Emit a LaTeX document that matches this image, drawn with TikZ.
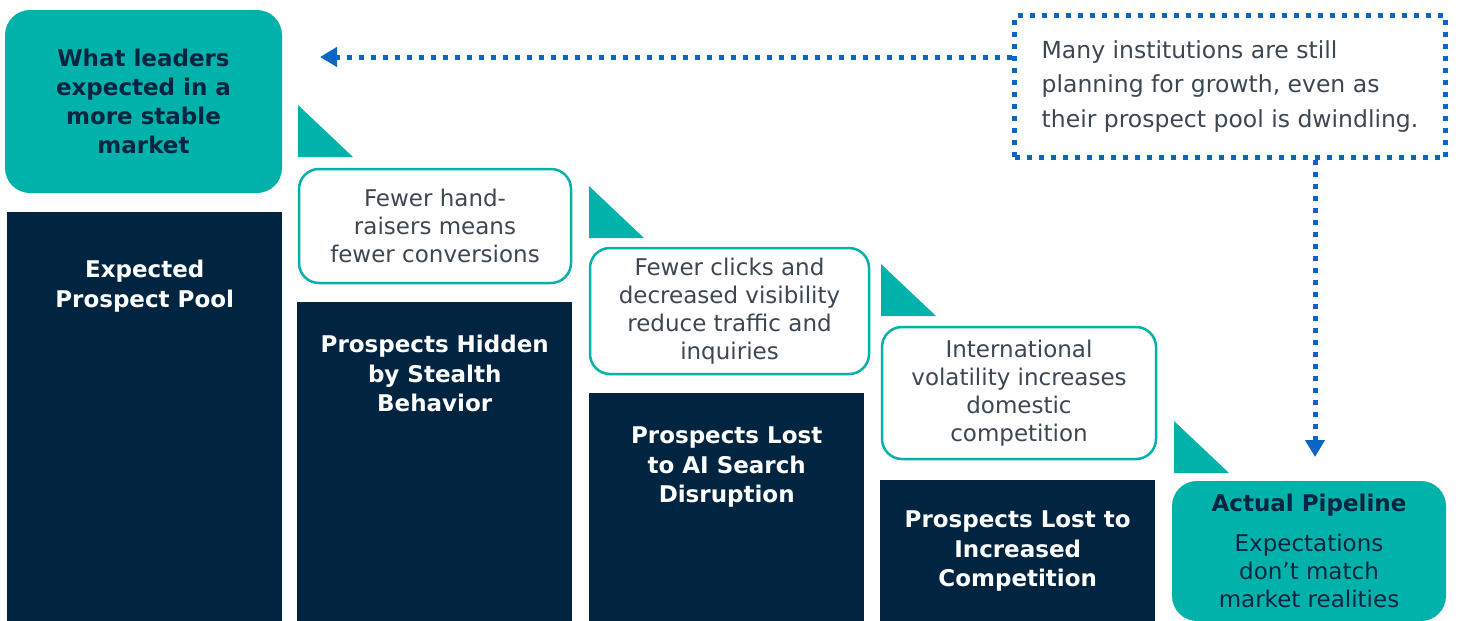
\documentclass[tikz,border=0pt]{standalone}
\usepackage{fontspec}
\setmainfont{DejaVu Sans}
\usetikzlibrary{arrows.meta, positioning}
\definecolor{tealfill}{HTML}{00B2A9}
\definecolor{navy}{HTML}{012441}
\definecolor{slate}{HTML}{3D4752}
\definecolor{linkblue}{HTML}{0A66C2}

\begin{document}
\begin{tikzpicture}[x=1pt, y=-1pt,
    tealbox/.style={fill=tealfill, rounded corners=25pt, text=navy, align=center, inner sep=0pt},
    notebox/.style={draw=tealfill, line width=2.5pt, fill=white, rounded corners=20pt, text=slate, align=center, inner sep=0pt, font=\fontsize{23}{28}\selectfont},
    bar/.style={fill=navy, anchor=north west, minimum width=275pt, inner sep=0pt},
    bartext/.style={text=white, align=center, inner sep=0pt, font=\bfseries\fontsize{23}{29.5}\selectfont},
    dotline/.style={draw=linkblue, line width=5pt, dash pattern=on 5pt off 7pt},
    dotarrow/.style={dotline, -{Triangle[length=17pt, width=19pt]}}]

    \useasboundingbox (0,0) rectangle (1459,621);

    \node[tealbox, minimum width=277pt, minimum height=183pt, font=\bfseries\fontsize{23}{29}\selectfont] (lead) at (143.5,101.5) {What leaders\\expected in a\\more stable\\market};

    \node[bar, minimum height=412pt] (pool) at (7,212) {};
    \node[bar, minimum height=322pt] (hidden) at (297,302) {};
    \node[bar, minimum height=231pt] (ailost) at (589,393) {};
    \node[bar, minimum height=144pt] (complost) at (880,480) {};

    \node[bartext, below=48pt of pool.north] (pooltext) {Expected\\Prospect Pool};
    \node[bartext, below=33pt of hidden.north] (hiddentext) {Prospects Hidden\\by Stealth\\Behavior};
    \node[bartext, below=34pt of ailost.north] (ailosttext) {Prospects Lost\\to AI Search\\Disruption};
    \node[bartext, below=31pt of complost.north] (complosttext) {Prospects Lost to\\Increased\\Competition};

    \node[notebox, minimum width=272pt, minimum height=114pt] (handraise) at (435,226) {Fewer hand-\\raisers means\\fewer conversions};
    \node[notebox, minimum width=279pt, minimum height=126pt] (clicks) at (729.5,311) {Fewer clicks and\\decreased visibility\\reduce traffic and\\inquiries};
    \node[notebox, minimum width=274pt, minimum height=132pt] (volatility) at (1019,393) {International\\volatility increases\\domestic\\competition};

    \foreach \x/\y in {298/157, 589/238, 881/316, 1174/473}
        \fill[tealfill] (\x,\y) -- ++(55,0) -- ++(-55,-52) -- cycle;

    \node[tealbox, minimum width=274pt, minimum height=140pt, font=\fontsize{23}{28}\selectfont] (actual) at (1309,551) {\textbf{Actual Pipeline}\\[12pt]Expectations\\don’t match\\market realities};

    \node[dotline, minimum width=431pt, minimum height=142pt, text=slate, align=left, inner sep=0pt, font=\fontsize{23.5}{34.5}\selectfont] (dotbox) at (1230,86.5) {Many institutions are still\\planning for growth, even as\\their prospect pool is dwindling.};

    \coordinate (leadtip) at (320,57);
    \coordinate (pipetip) at (1315,457);
    \draw[dotarrow] (dotbox.west |- leadtip) -- (leadtip);
    \draw[dotarrow] (dotbox.south -| pipetip) -- (pipetip);
\end{tikzpicture}
\end{document}
